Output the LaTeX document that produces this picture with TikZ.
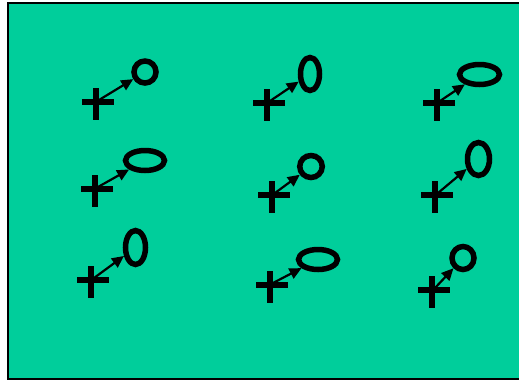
\documentclass[tikz,border=0pt]{standalone}
\usetikzlibrary{arrows.meta,shapes.geometric}
\definecolor{bggreen}{RGB}{0,206,155}
\tikzset{
  ell/.style={draw=black, line width=5.5pt, ellipse, inner sep=0pt, fill=none},
  arr/.style={draw=black, line width=2.2pt, -{Triangle[length=12pt,width=11pt]}},
  plusbar/.style={draw=black, line width=6.5pt},
  plus/.pic={\draw[plusbar] (-14,0) -- (18,0); \draw[plusbar] (0,-14) -- (0,18);}
}
\begin{document}
\begin{tikzpicture}[x=1pt,y=-1pt]
\useasboundingbox (0,0) rectangle (519,384);
\fill[white] (0,0) rectangle (519,384);
\draw[line width=2pt, fill=bggreen] (8,3) rectangle (526,379);
% ellipses
\node[ell, minimum width=22pt, minimum height=22pt] (e1) at (145,72) {};
\node[ell, minimum width=19pt, minimum height=33pt] (e2) at (310,74) {};
\node[ell, minimum width=40pt, minimum height=20pt] (e3) at (479.5,74.5) {};
\node[ell, minimum width=39pt, minimum height=20pt] (e4) at (145,160.5) {};
\node[ell, minimum width=22.5pt, minimum height=22pt] (e5) at (311,166.5) {};
\node[ell, minimum width=22pt, minimum height=33pt] (e6) at (478.5,159) {};
\node[ell, minimum width=20pt, minimum height=34pt] (e7) at (135.5,247.5) {};
\node[ell, minimum width=39pt, minimum height=20pt] (e8) at (318,259.5) {};
\node[ell, minimum width=22pt, minimum height=23pt] (e9) at (463,258) {};
% plus centres
\coordinate (p1) at (96,102);
\coordinate (p2) at (267,103);
\coordinate (p3) at (437,103);
\coordinate (p4) at (95,189);
\coordinate (p5) at (272,195);
\coordinate (p6) at (435,195);
\coordinate (p7) at (91,280);
\coordinate (p8) at (270,285);
\coordinate (p9) at (432,290);
\foreach \i in {1,...,9} {
  \pic at (p\i) {plus};
}
\foreach \i in {1,...,9} {
  \draw[arr] ([shift={(3,-2)}]p\i) -- (e\i);
}
\end{tikzpicture}
\end{document}
